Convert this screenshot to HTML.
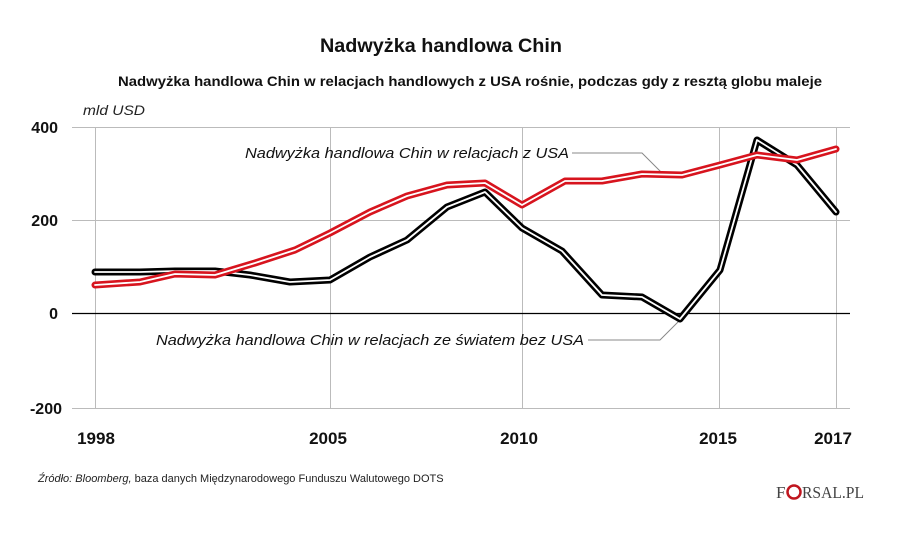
<!DOCTYPE html>
<html><head><meta charset="utf-8"><style>
html,body{margin:0;padding:0;background:#fff;}
svg{display:block;font-family:"Liberation Sans",sans-serif;}
</style></head><body>
<svg width="900" height="534" viewBox="0 0 900 534" xmlns="http://www.w3.org/2000/svg">
<rect width="900" height="534" fill="#fff"/>
<text x="320" y="52" font-size="19" font-weight="bold" textLength="242" lengthAdjust="spacingAndGlyphs" fill="#111">Nadwyżka handlowa Chin</text>
<text x="118" y="86" font-size="14" font-weight="bold" textLength="704" lengthAdjust="spacingAndGlyphs" fill="#111">Nadwyżka handlowa Chin w relacjach handlowych z USA rośnie, podczas gdy z resztą globu maleje</text>
<text x="83" y="115" font-size="14" font-style="italic" textLength="62" lengthAdjust="spacingAndGlyphs" fill="#222">mld USD</text>
<g stroke="#bbb" stroke-width="1">
<line x1="72" y1="127.5" x2="850" y2="127.5"/>
<line x1="72" y1="220.5" x2="850" y2="220.5"/>
<line x1="72" y1="408.5" x2="850" y2="408.5"/>
<line x1="95.5" y1="127" x2="95.5" y2="409"/>
<line x1="330.5" y1="127" x2="330.5" y2="409"/>
<line x1="522.5" y1="127" x2="522.5" y2="409"/>
<line x1="719.5" y1="127" x2="719.5" y2="409"/>
<line x1="836.5" y1="127" x2="836.5" y2="409"/>
</g>
<line x1="72" y1="313.5" x2="850" y2="313.5" stroke="#000" stroke-width="1.2"/>
<g font-size="16" font-weight="bold" text-anchor="end" fill="#111">
<text x="58" y="133">400</text>
<text x="58" y="226">200</text>
<text x="58" y="319">0</text>
<text x="62" y="414">-200</text>
</g>
<g font-size="17" font-weight="bold" text-anchor="middle" fill="#111">
<text x="96" y="444">1998</text>
<text x="328" y="444">2005</text>
<text x="519" y="444">2010</text>
<text x="718" y="444">2015</text>
<text x="833" y="444">2017</text>
</g>
<g fill="none" stroke="#888" stroke-width="1">
<polyline points="572,153 642,153 662,173"/>
<polyline points="588,340 660,340 680,320"/>
</g>
<g font-size="15" font-style="italic" fill="#111">
<text x="245" y="158" textLength="324" lengthAdjust="spacingAndGlyphs">Nadwyżka handlowa Chin w relacjach z USA</text>
<text x="156" y="345" textLength="428" lengthAdjust="spacingAndGlyphs">Nadwyżka handlowa Chin w relacjach ze światem bez USA</text>
</g>
<g fill="none" stroke-linejoin="round" stroke-linecap="round">
<polyline stroke="#000" stroke-width="7" points="95,272 140,272 175,271 215,271 250,275 290,282 330,280 370,257 407,240 447,207 485,192 522,228 562,251 602,295 642,297 680,319 720,270 757,140 797,165 836,212"/>
<polyline stroke="#fff" stroke-width="1.8" points="95,272 140,272 175,271 215,271 250,275 290,282 330,280 370,257 407,240 447,207 485,192 522,228 562,251 602,295 642,297 680,319 720,270 757,140 797,165 836,212"/>
<polyline stroke="#d7141e" stroke-width="7" points="95,285 140,282 175,274 215,275 255,263 295,250 330,233 370,212 407,196 447,185 485,183 522,205 565,181 602,181 642,174 682,175 720,165 757,155 797,160 836,149"/>
<polyline stroke="#fff" stroke-width="1.8" points="95,285 140,282 175,274 215,275 255,263 295,250 330,233 370,212 407,196 447,185 485,183 522,205 565,181 602,181 642,174 682,175 720,165 757,155 797,160 836,149"/>
</g>
<text x="38" y="482" font-size="11" fill="#222"><tspan font-style="italic">Źródło: Bloomberg,</tspan> baza danych Międzynarodowego Funduszu Walutowego DOTS</text>
<g font-family="Liberation Serif,serif" font-size="17" fill="#444">
<text x="776" y="498">F</text>
<circle cx="794" cy="492" r="6.5" fill="none" stroke="#c0161f" stroke-width="2.5"/>
<text x="802" y="498" textLength="62" lengthAdjust="spacingAndGlyphs">RSAL.PL</text>
</g>
</svg>
</body></html>
